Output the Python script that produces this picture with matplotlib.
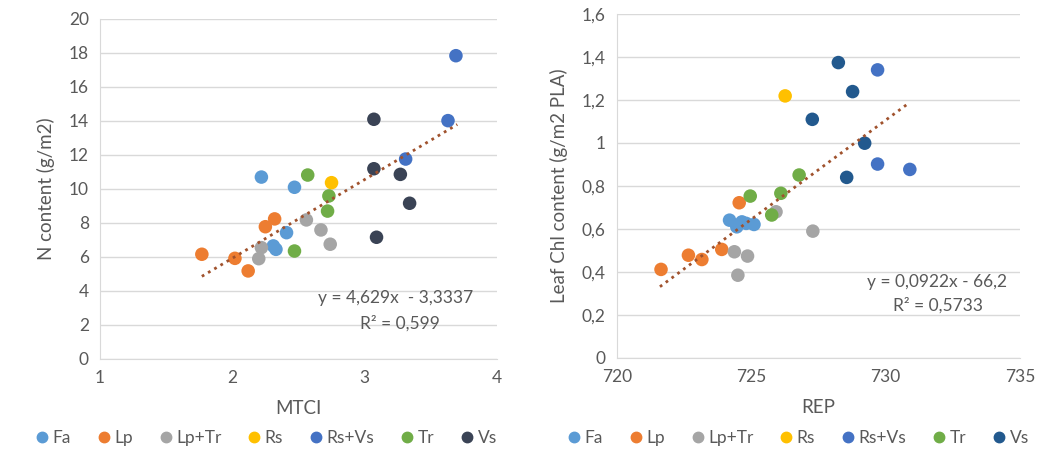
import matplotlib
matplotlib.use("Agg")
import matplotlib.pyplot as plt
from matplotlib.lines import Line2D

plt.rcParams['font.family'] = ['Lato', 'DejaVu Sans']

groups = ['Fa', 'Lp', 'Lp+Tr', 'Rs', 'Rs+Vs', 'Tr', 'Vs']
colors_left = ['#5B9BD5', '#ED7D31', '#A5A5A5', '#FFC000', '#4472C4', '#70AD47', '#3A4355']
colors_right = ['#5B9BD5', '#ED7D31', '#A5A5A5', '#FFC000', '#4472C4', '#70AD47', '#22598E']

# left panel: MTCI vs N content
mtci = {
    'Fa': [2.22, 2.47, 2.41, 2.31, 2.33],
    'Lp': [1.77, 2.02, 2.12, 2.25, 2.32],
    'Lp+Tr': [2.20, 2.22, 2.56, 2.67, 2.74],
    'Rs': [2.75],
    'Rs+Vs': [3.69, 3.63, 3.31],
    'Tr': [2.57, 2.73, 2.72, 2.47],
    'Vs': [3.07, 3.07, 3.27, 3.34, 3.09],
}
n_content = {
    'Fa': [10.7, 10.1, 7.43, 6.65, 6.45],
    'Lp': [6.16, 5.92, 5.18, 7.78, 8.24],
    'Lp+Tr': [5.90, 6.55, 8.18, 7.59, 6.75],
    'Rs': [10.37],
    'Rs+Vs': [17.84, 14.02, 11.76],
    'Tr': [10.82, 9.59, 8.70, 6.35],
    'Vs': [14.1, 11.19, 10.86, 9.16, 7.16],
}

# right panel: REP vs leaf Chl content
rep = {
    'Fa': [724.19, 724.46, 724.65, 724.81, 725.10],
    'Lp': [721.64, 722.66, 723.16, 723.90, 724.55],
    'Lp+Tr': [724.37, 724.86, 724.50, 725.92, 727.29],
    'Rs': [726.26],
    'Rs+Vs': [729.70, 729.70, 730.90],
    'Tr': [724.96, 725.76, 726.10, 726.78],
    'Vs': [728.24, 728.77, 727.27, 729.22, 728.55],
}
chl = {
    'Fa': [0.641, 0.610, 0.633, 0.626, 0.621],
    'Lp': [0.412, 0.478, 0.458, 0.505, 0.722],
    'Lp+Tr': [0.494, 0.474, 0.385, 0.680, 0.590],
    'Rs': [1.219],
    'Rs+Vs': [1.340, 0.902, 0.877],
    'Tr': [0.753, 0.665, 0.766, 0.851],
    'Vs': [1.374, 1.239, 1.110, 0.999, 0.840],
}

fit_left = (4.629, -3.3337)
fit_right = (0.0922, -66.2)
fit_left_x = [1.77, 3.70]
fit_right_x = [721.6, 730.9]

tick_color = '#595959'
grid_color = '#D9D9D9'
trend_color = '#A0522D'


def style_axes(ax):
    for s in ['top', 'right']:
        ax.spines[s].set_visible(False)
    for s in ['left', 'bottom']:
        ax.spines[s].set_color(grid_color)
    ax.tick_params(length=0, labelsize=12.5, colors=tick_color, pad=8)
    ax.yaxis.grid(True, color=grid_color, lw=1)
    ax.set_axisbelow(True)


fig = plt.figure(figsize=(10.39, 4.54), dpi=100)

# left
ax1 = fig.add_axes([0.0962, 0.2093, 0.3821, 0.7489])
for g, c in zip(groups, colors_left):
    ax1.scatter(mtci[g], n_content[g], s=95, color=c, edgecolors='none', zorder=3)
ax1.plot(fit_left_x, [fit_left[0] * x + fit_left[1] for x in fit_left_x],
         color=trend_color, ls=(0, (1, 1.6)), lw=2, zorder=4)
ax1.set_xlim(1, 4)
ax1.set_ylim(0, 20)
ax1.set_xticks([1, 2, 3, 4])
ax1.set_yticks(range(0, 21, 2))
style_axes(ax1)
ax1.set_xlabel('MTCI', fontsize=13.5, color=tick_color, labelpad=10)
ax1.set_ylabel('N content (g/m2)', fontsize=13.5, color=tick_color, labelpad=10)
ax1.text(3.82, 3.6, 'y = 4,629x  - 3,3337', fontsize=12.5, color=tick_color, ha='right', va='center')
ax1.text(3.27, 2.1, 'R² = 0,599', fontsize=12.5, color=tick_color, ha='center', va='center')

# right
ax2 = fig.add_axes([0.5938, 0.2115, 0.3879, 0.7577])
for g, c in zip(groups, colors_right):
    ax2.scatter(rep[g], chl[g], s=95, color=c, edgecolors='none', zorder=3)
ax2.plot(fit_right_x, [fit_right[0] * x + fit_right[1] for x in fit_right_x],
         color=trend_color, ls=(0, (1, 1.6)), lw=2, zorder=4)
ax2.set_xlim(720, 735)
ax2.set_ylim(0, 1.6)
ax2.set_xticks([720, 725, 730, 735])
ax2.set_yticks([0, 0.2, 0.4, 0.6, 0.8, 1.0, 1.2, 1.4, 1.6])
ax2.set_yticklabels(['0', '0,2', '0,4', '0,6', '0,8', '1', '1,2', '1,4', '1,6'])
style_axes(ax2)
ax2.set_xlabel('REP', fontsize=13.5, color=tick_color, labelpad=10)
ax2.set_ylabel('Leaf Chl content (g/m2 PLA)', fontsize=13.5, color=tick_color, labelpad=10)
ax2.text(734.5, 0.353, 'y = 0,0922x - 66,2', fontsize=12.5, color=tick_color, ha='right', va='center')
ax2.text(731.95, 0.245, 'R² = 0,5733', fontsize=12.5, color=tick_color, ha='center', va='center')

# legends
for cols, cx in [(colors_left, 265 / 1039), (colors_right, 797 / 1039)]:
    handles = [Line2D([], [], marker='o', ls='none', color=c, markersize=7.5) for c in cols]
    fig.legend(handles, groups, loc='center', bbox_to_anchor=(cx, 0.035), ncol=7,
               frameon=False, fontsize=12.5, labelcolor=tick_color, handletextpad=0.1,
               columnspacing=1.4, handlelength=1.0)

fig.savefig('out.png', dpi=100)
